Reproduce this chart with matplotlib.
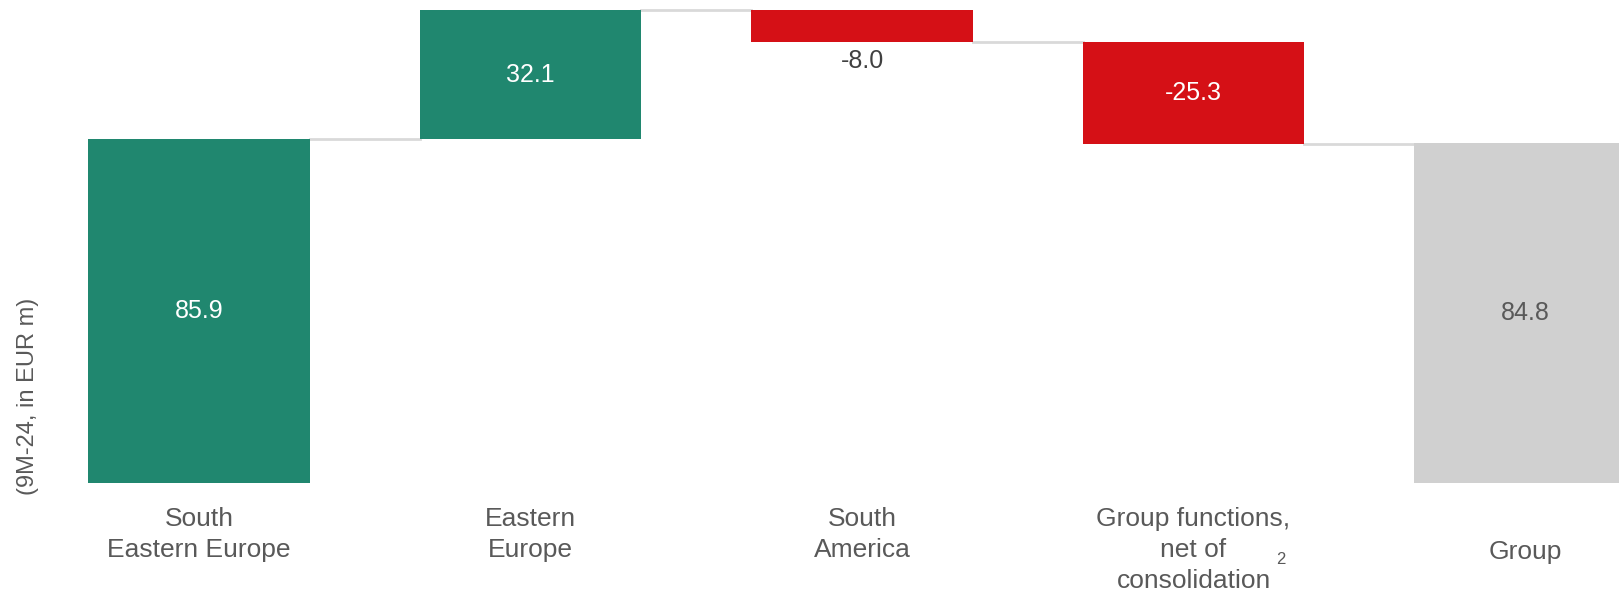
import matplotlib.pyplot as plt

plt.rcParams['font.family'] = ['Liberation Sans', 'DejaVu Sans']

# Data
categories = ['South\nEastern Europe', 'Eastern\nEurope', 'South\nAmerica',
              'Group functions,\nnet of\nconsolidation', 'Group']
values = [85.9, 32.1, -8.0, -25.3, 84.8]
is_total = [False, False, False, False, True]
value_labels = ['85.9', '32.1', '-8.0', '-25.3', '84.8']

green = '#20876F'
red = '#D51016'
grey = '#D0D0D0'
text_grey = '#595959'

fig = plt.figure(figsize=(16.19, 5.91), dpi=100)
ax = fig.add_axes([0, (591 - 483) / 591, 1, 483 / 591])

# waterfall bases
bottoms = []
tops = []
running = 0
for v, tot in zip(values, is_total):
    if tot:
        bottoms.append(0)
        tops.append(v)
        running = v
    else:
        start = running
        running = running + v
        bottoms.append(min(start, running))
        tops.append(max(start, running))

width = 0.667
for i, v in enumerate(values):
    if is_total[i]:
        c = grey
    else:
        c = green if v >= 0 else red
    ax.bar(i, tops[i] - bottoms[i], bottom=bottoms[i], width=width, color=c, zorder=2)

# connectors
level = 0
for i in range(len(values) - 1):
    level = values[i] if is_total[i] else level + values[i]
    ax.plot([i + width / 2, i + 1 - width / 2], [level, level], color='#D9D9D9', lw=2, zorder=1)

# value labels
for i, v in enumerate(values):
    mid = (tops[i] + bottoms[i]) / 2
    if is_total[i]:
        ax.text(i, mid, value_labels[i], ha='center', va='center', fontsize=18, color=text_grey)
    elif tops[i] - bottoms[i] < 15:
        ax.text(i, bottoms[i] - 4.7, value_labels[i], ha='center', va='center', fontsize=18, color='#404040')
    else:
        ax.text(i, mid, value_labels[i], ha='center', va='center', fontsize=18, color='white')

# category labels
for i, cat in enumerate(categories):
    ypix = 507 if cat != 'Group' else 540
    fig.text((199 + 331.5 * i) / 1619, 1 - ypix / 591, cat, ha='center', va='top',
             fontsize=19, color=text_grey, linespacing=1.36)

fig.text(1276 / 1619, 1 - 559 / 591, '2', ha='left', va='center',
         fontsize=12, color=text_grey)

fig.text(28 / 1619, 1 - 396 / 591, '(9M-24, in EUR m)', rotation=90, ha='center', va='center',
         fontsize=17, color=text_grey)

ax.set_xlim(-199 / 331.5, (1619 - 199) / 331.5)
ax.set_ylim(0, 483 / 4.006)
ax.axis('off')

fig.savefig('out.png', dpi=100)
